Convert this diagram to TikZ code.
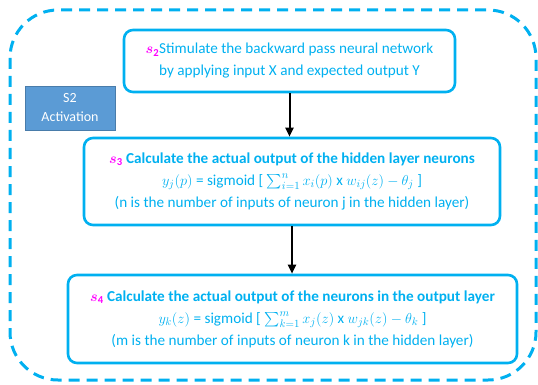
\documentclass[tikz,border=0pt]{standalone}
\usepackage{fontspec}
\setmainfont{Carlito}
\usetikzlibrary{arrows.meta}
\definecolor{cy}{HTML}{00B0F0}
\definecolor{mg}{HTML}{FF00FF}
\definecolor{actfill}{HTML}{5B9BD5}
\newcommand{\stepmark}[1]{\textcolor{mg}{$\boldsymbol{s}_{\mathbf{#1}}$}}
\usepackage{amsmath,bm}
\begin{document}
\begin{tikzpicture}[x=1pt,y=-1pt,
  stepbox/.style={draw=cy, line width=2.6pt, rounded corners=9pt, text=cy,
    align=center, inner sep=0pt, font=\fontsize{15.2}{22}\selectfont},
  flow/.style={-{Triangle[length=9pt,width=8pt]}, line width=2pt, black},
  outerbox/.style={draw=cy, line width=3pt, dash pattern=on 11pt off 7pt, rounded corners=48pt}]
\useasboundingbox (0,0) rectangle (538,385);
\draw[outerbox] (10,10) rectangle (536,380);
\coordinate (outer) at (273,195);
\node[stepbox, minimum width=331pt, minimum height=62pt] (b1) at (289.5,61)
  {\stepmark{2}Stimulate the backward pass neural network\\by applying input X and expected output Y};
\node[stepbox, minimum width=416pt, minimum height=87pt] (b2) at (292,181.5)
  {\stepmark{3} \textbf{Calculate the actual output of the hidden layer neurons}\\
   $y_j(p)$ = sigmoid [ $\sum_{i=1}^{n} x_i(p)$ x $w_{ij}(z) - \theta_j$ ]\\
   (n is the number of inputs of neuron j in the hidden layer)};
\node[stepbox, minimum width=449pt, minimum height=88pt] (b3) at (292.5,319)
  {\stepmark{4} \textbf{Calculate the actual output of the neurons in the output layer}\\
   $y_k(z)$ = sigmoid [ $\sum_{k=1}^{m} x_j(z)$ x $w_{jk}(z) - \theta_k$ ]\\
   (m is the number of inputs of neuron k in the hidden layer)};
\node[fill=actfill, draw=actfill!80!black, line width=0.4pt, text=white, align=center,
  minimum width=90pt, minimum height=44pt, inner sep=0pt,
  font=\fontsize{14}{19}\selectfont] (act) at (70,108) {S2\\Activation};
\draw[flow] (b1.south) -- (b1.south |- b2.north);
\draw[flow] (b2.south) -- (b2.south |- b3.north);
\end{tikzpicture}
\end{document}
